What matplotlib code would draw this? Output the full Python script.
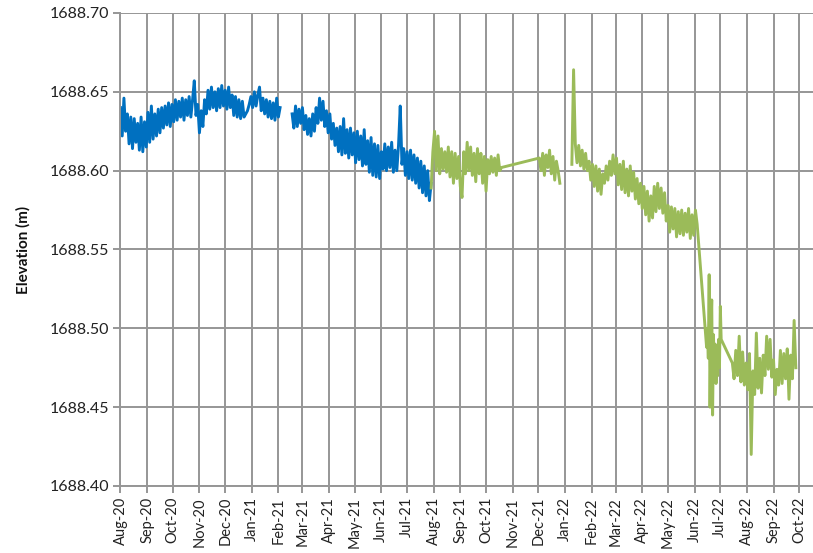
import pandas as pd
import matplotlib.pyplot as plt
import matplotlib.dates as mdates
from matplotlib.ticker import MultipleLocator, FormatStrFormatter

# water surface elevation (m), logged every 2 days unless noted
blue_a_start = "2020-08-01"
blue_a = [
    1688.640, 1688.622, 1688.646, 1688.625, 1688.636, 1688.617, 1688.634, 1688.614, 1688.633, 1688.618,
    1688.630, 1688.613, 1688.634, 1688.612, 1688.631, 1688.615, 1688.637, 1688.618, 1688.641, 1688.620,
    1688.636, 1688.622, 1688.639, 1688.624, 1688.640, 1688.627, 1688.641, 1688.629, 1688.643, 1688.628,
    1688.642, 1688.631, 1688.645, 1688.632, 1688.644, 1688.634, 1688.646, 1688.632, 1688.645, 1688.635,
    1688.647, 1688.634, 1688.645, 1688.657, 1688.635, 1688.642, 1688.624, 1688.638, 1688.628, 1688.645,
    1688.636, 1688.651, 1688.639, 1688.653, 1688.640, 1688.650, 1688.638, 1688.652, 1688.640, 1688.654,
    1688.641, 1688.651, 1688.639, 1688.653, 1688.640, 1688.648, 1688.635, 1688.647, 1688.634, 1688.645,
    1688.633, 1688.644, 1688.634, 1688.636, 1688.638, 1688.642, 1688.647, 1688.640, 1688.650, 1688.641,
    1688.648, 1688.653, 1688.638, 1688.646, 1688.636, 1688.645, 1688.634, 1688.644, 1688.633, 1688.643,
    1688.632, 1688.646, 1688.634, 1688.640,
]

blue_b_start = "2021-02-17"
blue_b = [
    1688.636, 1688.627, 1688.641, 1688.628, 1688.639, 1688.630, 1688.640, 1688.626, 1688.635, 1688.623,
    1688.633, 1688.622, 1688.636, 1688.625, 1688.640, 1688.630, 1688.646, 1688.632, 1688.644, 1688.628,
    1688.638, 1688.624, 1688.636, 1688.620, 1688.630, 1688.616, 1688.627, 1688.612, 1688.628, 1688.610,
    1688.633, 1688.611, 1688.626, 1688.608, 1688.627, 1688.610, 1688.624, 1688.605, 1688.625, 1688.607,
    1688.622, 1688.603, 1688.626, 1688.604, 1688.619, 1688.599, 1688.621, 1688.597, 1688.617, 1688.596,
    1688.616, 1688.595, 1688.612, 1688.601, 1688.617, 1688.600, 1688.615, 1688.602, 1688.618, 1688.599,
    1688.613, 1688.600, 1688.616, 1688.641, 1688.604, 1688.614, 1688.597, 1688.612, 1688.595, 1688.613,
    1688.594, 1688.610, 1688.592, 1688.608, 1688.589, 1688.606, 1688.586, 1688.603, 1688.584, 1688.600,
    1688.581, 1688.592,
]

green_a_start = "2021-07-29"
green_a = [
    1688.589, 1688.612, 1688.625, 1688.600, 1688.622, 1688.598, 1688.614, 1688.601, 1688.612, 1688.599,
    1688.615, 1688.596, 1688.612, 1688.592, 1688.611, 1688.595, 1688.609, 1688.590, 1688.583, 1688.612,
    1688.598, 1688.618, 1688.600, 1688.615, 1688.597, 1688.611, 1688.593, 1688.614, 1688.598, 1688.611,
    1688.592, 1688.609, 1688.587, 1688.607, 1688.598, 1688.609, 1688.599, 1688.608, 1688.597, 1688.610,
    1688.600, 1688.602,
]

green_b_start = "2021-12-02"
green_b = [
    1688.608, 1688.600, 1688.611, 1688.597, 1688.610, 1688.602, 1688.613, 1688.598, 1688.609, 1688.594,
    1688.606, 1688.600, 1688.592,
]

green_c_start = "2022-01-09"
green_c = [
    1688.604, 1688.664, 1688.617, 1688.605, 1688.616, 1688.603, 1688.613, 1688.601, 1688.611, 1688.600,
    1688.606, 1688.594, 1688.604, 1688.590, 1688.603, 1688.587, 1688.601, 1688.585, 1688.598, 1688.592,
    1688.603, 1688.594, 1688.606, 1688.597, 1688.610, 1688.598, 1688.608, 1688.591, 1688.604, 1688.588,
    1688.606, 1688.586, 1688.601, 1688.584, 1688.603, 1688.587, 1688.599, 1688.582, 1688.595, 1688.579,
    1688.592, 1688.576, 1688.590, 1688.572, 1688.587, 1688.568, 1688.584, 1688.570, 1688.590, 1688.574,
    1688.592, 1688.576, 1688.589, 1688.573, 1688.586, 1688.568, 1688.578, 1688.561, 1688.577, 1688.563,
    1688.576, 1688.558, 1688.574, 1688.560, 1688.575, 1688.559, 1688.573, 1688.561, 1688.576, 1688.557,
    1688.572, 1688.559, 1688.575, 1688.566,
]

# daily readings after the drawdown
green_d_start = "2022-06-15"
green_d = [
    1688.488, 1688.500, 1688.481, 1688.534, 1688.450, 1688.497, 1688.518, 1688.445, 1688.496, 1688.472,
    1688.490, 1688.465, 1688.487, 1688.470, 1688.493, 1688.475, 1688.514, 1688.493,
]

green_e_start = "2022-07-15"
green_e = [
    1688.478, 1688.468, 1688.486, 1688.470, 1688.495, 1688.466, 1688.485, 1688.464, 1688.478, 1688.461,
    1688.484, 1688.420, 1688.473, 1688.458, 1688.497, 1688.462, 1688.481, 1688.459, 1688.483, 1688.470,
    1688.495, 1688.474, 1688.493, 1688.469, 1688.480, 1688.458, 1688.474, 1688.464, 1688.486, 1688.465,
    1688.484, 1688.468, 1688.487, 1688.455, 1688.483, 1688.468, 1688.505, 1688.475,
]

BLUE = "#0070C0"
GREEN = "#9BBB59"
GRID = "#969696"


def series(start, values, freq="2D"):
    idx = pd.date_range(start, periods=len(values), freq=freq)
    return pd.Series(values, index=idx)


def main() -> None:
    plt.rcParams["font.family"] = ["Lato", "DejaVu Sans"]

    runs = [
        (BLUE, [series(blue_a_start, blue_a)]),
        (BLUE, [series(blue_b_start, blue_b)]),
        (GREEN, [series(green_a_start, green_a), series(green_b_start, green_b)]),
        (GREEN, [series(green_c_start, green_c),
                 series(green_d_start, green_d, "1D"),
                 series(green_e_start, green_e)]),
    ]

    fig = plt.figure(figsize=(8.13, 5.53), dpi=100)
    ax = fig.add_axes([0.1482, 0.1212, 0.8518, 0.8553])

    for color, parts in runs:
        s = pd.concat(parts)
        ax.plot(s.index, s.values, color=color, lw=2.1, solid_joinstyle="round")

    ax.set_xlim(pd.Timestamp("2020-08-01"), pd.Timestamp("2022-10-17"))
    ax.set_ylim(1688.40, 1688.70)
    ax.yaxis.set_major_locator(MultipleLocator(0.05))
    ax.yaxis.set_major_formatter(FormatStrFormatter("%.2f"))
    ax.xaxis.set_major_locator(mdates.MonthLocator())
    ax.xaxis.set_major_formatter(mdates.DateFormatter("%b-%y"))

    ax.grid(True, color=GRID, lw=1.4)
    ax.set_axisbelow(True)
    for side in ("top", "right"):
        ax.spines[side].set_visible(False)
    for side in ("left", "bottom"):
        ax.spines[side].set_color(GRID)
        ax.spines[side].set_linewidth(1.4)

    ax.tick_params(axis="both", colors=GRID, width=1.4, length=5, labelcolor="#222222")
    ax.tick_params(axis="y", labelsize=11.5, pad=3)
    ax.tick_params(axis="x", labelsize=10.5, rotation=90, pad=3)
    ax.set_ylabel("Elevation (m)", fontsize=11, fontweight="bold", color="#111111", labelpad=14)

    fig.savefig("out.png", dpi=100)


if __name__ == "__main__":
    main()
